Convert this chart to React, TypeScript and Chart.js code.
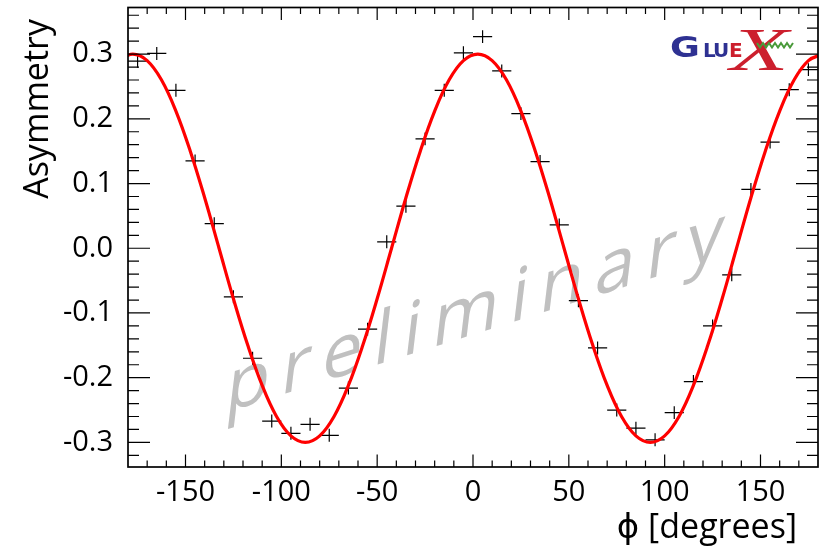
import React, { useEffect, useRef } from "react";
import { Chart, registerables } from "chart.js";

Chart.register(...registerables);

// ---- data ----
const phiBins = [
  -175, -165, -155, -145, -135, -125, -115, -105, -95, -85, -75, -65, -55, -45, -35, -25, -15, -5,
  5, 15, 25, 35, 45, 55, 65, 75, 85, 95, 105, 115, 125, 135, 145, 155, 165, 175,
];
const asymmetry = [
  0.289, 0.301, 0.244, 0.135, 0.038, -0.075, -0.17, -0.267, -0.286, -0.272, -0.289, -0.216, -0.125, 0.01, 0.065, 0.169, 0.244, 0.302,
  0.327, 0.274, 0.208, 0.134, 0.036, -0.081, -0.154, -0.25, -0.278, -0.296, -0.254, -0.206, -0.12, -0.041, 0.091, 0.164, 0.245, 0.276,
];
const asymmetryErr = [
  0.01, 0.01, 0.01, 0.01, 0.01, 0.01, 0.01, 0.01, 0.01, 0.01, 0.01, 0.01, 0.01, 0.01, 0.01, 0.01, 0.01, 0.01,
  0.01, 0.01, 0.01, 0.01, 0.01, 0.01, 0.01, 0.01, 0.01, 0.01, 0.01, 0.01, 0.01, 0.01, 0.01, 0.01, 0.01, 0.01,
];
const binHalfWidth = [
  5, 5, 5, 5, 5, 5, 5, 5, 5, 5, 5, 5, 5, 5, 5, 5, 5, 5,
  5, 5, 5, 5, 5, 5, 5, 5, 5, 5, 5, 5, 5, 5, 5, 5, 5, 5,
];

// fit curve
const fitPhi = [
  -185, -177.5, -170, -162.5, -155, -147.5, -140, -132.5, -125, -117.5, -110, -102.5, -95, -87.5, -80, -72.5, -65,
  -57.5, -50, -42.5, -35, -27.5, -20, -12.5, -5, 2.5, 10, 17.5, 25, 32.5, 40, 47.5, 55, 62.5, 70, 77.5, 85,
  92.5, 100, 107.5, 115, 122.5, 130, 137.5, 145, 152.5, 160, 167.5, 175, 182.5,
];
const fitAsym = [
  0.29, 0.3, 0.29, 0.26, 0.212, 0.15, 0.078, 0, -0.078, -0.15, -0.212, -0.26, -0.29, -0.3, -0.29, -0.26, -0.212,
  -0.15, -0.078, 0, 0.078, 0.15, 0.212, 0.26, 0.29, 0.3, 0.29, 0.26, 0.212, 0.15, 0.078, 0, -0.078, -0.15, -0.212, -0.26, -0.29,
  -0.3, -0.29, -0.26, -0.212, -0.15, -0.078, 0, 0.078, 0.15, 0.212, 0.26, 0.29, 0.3,
];

const xTickValues = [-150, -100, -50, 0, 50, 100, 150];
const yTickValues = [-0.3, -0.2, -0.1, 0, 0.1, 0.2, 0.3];

const X_MIN = -180;
const X_MAX = 180;
const Y_MIN = -0.338;
const Y_MAX = 0.372;
const X_MINOR = 10;
const Y_MINOR = 0.02;

const xTitle = "ϕ [degrees]";
const yTitle = "Asymmetry";
const watermark = "preliminary";

const FONT = '"Open Sans", "DejaVu Sans", sans-serif';

const rootStyle = {
  id: "rootStyle",
  beforeDatasetsDraw(chart: any) {
    const ctx = chart.ctx as CanvasRenderingContext2D;
    const xs = chart.scales.x;
    const ys = chart.scales.y;
    const area = chart.chartArea;

    // watermark
    ctx.save();
    const ang = (17.5 * Math.PI) / 180;
    ctx.translate(224, 413);
    ctx.transform(Math.cos(ang), -Math.sin(ang), -0.12, 1, 0, 0);
    ctx.font = `500 75px ${FONT}`;
    ctx.fillStyle = "#c0c0c0";
    ctx.textBaseline = "alphabetic";
    let px = 0;
    for (const ch of watermark) {
      ctx.fillText(ch, px, 0);
      px += ctx.measureText(ch).width + 12;
    }
    ctx.restore();

    // data crosses
    ctx.save();
    ctx.beginPath();
    ctx.rect(area.left, area.top, area.right - area.left, area.bottom - area.top);
    ctx.clip();
    ctx.strokeStyle = "#000";
    ctx.lineWidth = 1.2;
    const ds = chart.data.datasets[1].data as { x: number; y: number }[];
    ds.forEach((p, i) => {
      const cx = xs.getPixelForValue(p.x);
      const cy = ys.getPixelForValue(p.y);
      const x0 = xs.getPixelForValue(p.x - binHalfWidth[i]);
      const x1 = xs.getPixelForValue(p.x + binHalfWidth[i]);
      const y0 = ys.getPixelForValue(p.y - asymmetryErr[i]);
      const y1 = ys.getPixelForValue(p.y + asymmetryErr[i]);
      ctx.beginPath();
      ctx.moveTo(x0, cy);
      ctx.lineTo(x1, cy);
      ctx.moveTo(cx, y0);
      ctx.lineTo(cx, y1);
      ctx.stroke();
    });
    ctx.restore();
  },
  afterDraw(chart: any) {
    const ctx = chart.ctx as CanvasRenderingContext2D;
    const xs = chart.scales.x;
    const ys = chart.scales.y;
    const { left, right, top, bottom } = chart.chartArea;

    ctx.save();
    ctx.strokeStyle = "#000";
    ctx.lineWidth = 1.2;
    ctx.beginPath();
    const nX0 = Math.ceil(X_MIN / X_MINOR);
    const nX1 = Math.floor(X_MAX / X_MINOR);
    for (let k = nX0; k <= nX1; k++) {
      const v = k * X_MINOR;
      if (v <= X_MIN || v >= X_MAX) continue;
      const major = xTickValues.some((t) => Math.abs(t - v) < 1e-6);
      const len = major ? 12.5 : 6.5;
      const p = xs.getPixelForValue(v);
      ctx.moveTo(p, bottom);
      ctx.lineTo(p, bottom - len);
      ctx.moveTo(p, top);
      ctx.lineTo(p, top + len);
    }
    const nY0 = Math.ceil(Y_MIN / Y_MINOR - 1e-9);
    const nY1 = Math.floor(Y_MAX / Y_MINOR + 1e-9);
    for (let k = nY0; k <= nY1; k++) {
      const v = k * Y_MINOR;
      const major = yTickValues.some((t) => Math.abs(t - v) < 1e-6);
      const len = major ? 22 : 11;
      const p = ys.getPixelForValue(v);
      ctx.moveTo(left, p);
      ctx.lineTo(left + len, p);
      ctx.moveTo(right, p);
      ctx.lineTo(right - len, p);
    }
    ctx.stroke();

    // frame
    ctx.lineWidth = 1.7;
    ctx.strokeRect(left, top, right - left, bottom - top);

    // axis titles
    ctx.fillStyle = "#000";
    ctx.font = `34px ${FONT}`;
    ctx.textAlign = "right";
    ctx.textBaseline = "alphabetic";
    ctx.fillText(xTitle, 797, 538);

    ctx.save();
    ctx.translate(48, 19);
    ctx.rotate(-Math.PI / 2);
    ctx.textAlign = "right";
    ctx.fillText(yTitle, 0, 0);
    ctx.restore();

    // GlueX logo
    const navy = "#2e3192";
    const red = "#cc1f2d";
    ctx.textAlign = "left";
    ctx.save();
    ctx.translate(670, 57);
    ctx.scale(1.3, 1);
    ctx.font = `bold 28px "DejaVu Sans", sans-serif`;
    ctx.fillStyle = navy;
    ctx.fillText("G", 0, 0);
    ctx.restore();
    ctx.font = `bold 20px "DejaVu Sans", sans-serif`;
    ctx.fillStyle = navy;
    ctx.fillText("L", 703, 57);
    ctx.fillText("U", 713, 57);
    ctx.fillStyle = red;
    ctx.fillText("E", 729, 57);
    ctx.save();
    ctx.translate(730, 70);
    ctx.scale(1.55, 1);
    ctx.font = `italic 62px "Liberation Serif", serif`;
    ctx.fillStyle = red;
    ctx.fillText("X", 0, 0);
    ctx.restore();
    ctx.strokeStyle = "#4a9a3a";
    ctx.lineWidth = 2;
    ctx.beginPath();
    for (let i = 0; i <= 12; i++) {
      const wx = 757 + i * 3;
      const wy = i % 2 === 0 ? 43 : 47.5;
      if (i === 0) ctx.moveTo(wx, wy);
      else ctx.lineTo(wx, wy);
    }
    ctx.stroke();
    ctx.restore();
  },
};

export default function App() {
  const canvasRef = useRef<HTMLCanvasElement | null>(null);

  useEffect(() => {
    document.body.style.margin = "0";
    const canvas = canvasRef.current;
    if (!canvas) return;
    const chart = new Chart(canvas, {
      type: "line",
      data: {
        datasets: [
          {
            type: "line",
            label: "fit",
            data: fitPhi.map((x, i) => ({ x, y: fitAsym[i] })),
            borderColor: "#ff0000",
            borderWidth: 3.2,
            pointRadius: 0,
            tension: 0.4,
            fill: false,
          },
          {
            type: "scatter",
            label: "data",
            data: phiBins.map((x, i) => ({ x, y: asymmetry[i] })),
            pointRadius: 0,
            showLine: false,
          },
        ],
      } as any,
      options: {
        animation: false,
        responsive: false,
        devicePixelRatio: 1,
        layout: { padding: { top: 7.5, right: 7, left: 0, bottom: 0 } },
        plugins: { legend: { display: false }, tooltip: { enabled: false } },
        scales: {
          x: {
            type: "linear",
            min: X_MIN,
            max: X_MAX,
            grid: { display: false, drawTicks: false },
            border: { display: false },
            afterBuildTicks: (s: any) => {
              s.ticks = xTickValues.map((v) => ({ value: v }));
            },
            afterFit: (s: any) => {
              s.height = 83;
              s.paddingLeft = 0;
              s.paddingRight = 0;
            },
            ticks: {
              color: "#000",
              padding: 8,
              maxRotation: 0,
              autoSkip: false,
              font: { family: FONT, size: 29 },
              callback: (v: any) => String(v),
            },
          },
          y: {
            type: "linear",
            min: Y_MIN,
            max: Y_MAX,
            grid: { display: false, drawTicks: false },
            border: { display: false },
            afterBuildTicks: (s: any) => {
              s.ticks = yTickValues.map((v) => ({ value: v }));
            },
            afterFit: (s: any) => {
              s.width = 128;
              s.paddingTop = 0;
              s.paddingBottom = 0;
            },
            ticks: {
              color: "#000",
              padding: 15,
              autoSkip: false,
              font: { family: FONT, size: 29 },
              callback: (v: any) => Number(v).toFixed(1),
            },
          },
        },
      } as any,
      plugins: [rootStyle],
    });
    return () => chart.destroy();
  }, []);

  return (
    <div style={{ width: 825, height: 550, background: "#fff" }}>
      <canvas ref={canvasRef} width={825} height={550} style={{ display: "block" }} />
    </div>
  );
}
